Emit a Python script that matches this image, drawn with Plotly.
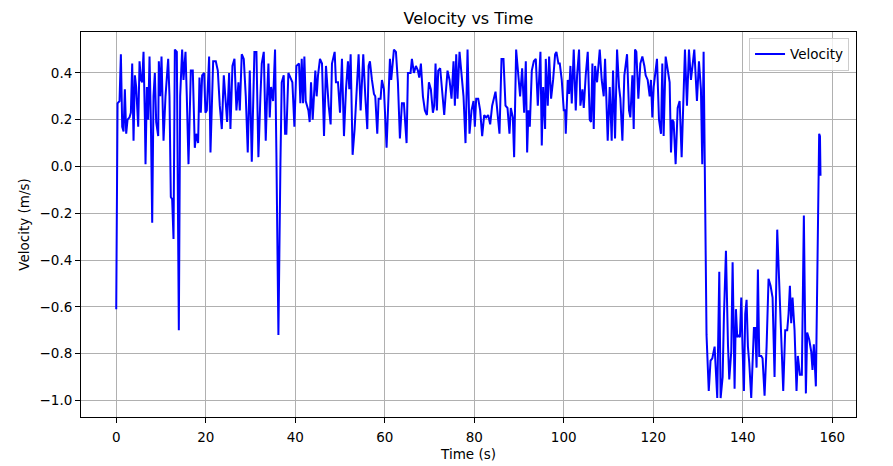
import plotly.graph_objects as go

# values
time_s = [
    0.0, 0.3, 0.74, 1.04, 1.34, 1.64, 1.93, 2.23, 2.53, 2.98, 3.27, 3.57, 3.87, 4.17, 4.46, 4.91,
    5.21, 5.51, 5.8, 6.1, 6.4, 6.55, 6.85, 7.14, 7.44, 7.74, 8.04, 8.33, 8.63, 8.93, 9.38, 9.52,
    9.82, 10.12, 10.57, 11.01, 11.61, 11.9, 12.2, 12.5, 12.8, 13.1, 13.54, 13.99, 14.29, 14.73,
    15.03, 15.48, 15.77, 16.15, 16.67, 17.11, 17.56, 17.86, 18.3, 18.6, 18.9, 19.2, 19.64, 19.94,
    20.24, 20.76, 21.06, 21.66, 22.25, 22.7, 23.14, 23.59, 24.04, 24.48, 24.78, 25.23, 25.52,
    25.97, 26.42, 26.86, 27.31, 27.61, 28.05, 28.5, 28.95, 29.39, 29.84, 30.29, 30.88, 31.33,
    31.77, 32.22, 32.52, 32.97, 33.41, 33.71, 34.01, 34.3, 34.6, 35.05, 35.49, 35.79, 36.24,
    36.69, 36.98, 37.43, 37.73, 38.02, 38.47, 38.92, 39.36, 39.81, 40.26, 40.85, 41.15, 41.45,
    41.75, 42.04, 42.34, 42.64, 42.94, 43.23, 43.53, 43.9, 44.19, 44.49, 44.79, 45.09, 45.53,
    45.98, 46.43, 46.87, 47.47, 47.91, 48.21, 48.81, 49.1, 49.55, 50.0, 50.44, 50.89, 51.34,
    51.78, 52.08, 52.38, 52.68, 52.82, 53.27, 53.72, 54.16, 54.61, 55.2, 55.65, 56.1, 56.4,
    56.69, 57.14, 57.59, 57.88, 58.33, 58.63, 59.07, 59.37, 59.82, 60.41, 61.16, 61.45, 62.05,
    62.5, 62.94, 63.39, 63.84, 64.28, 64.88, 65.18, 65.77, 66.07, 66.51, 66.96, 67.41, 67.71,
    68.08, 68.53, 68.97, 69.42, 69.87, 70.31, 70.76, 71.06, 71.35, 71.65, 71.95, 72.39, 72.84,
    73.29, 73.58, 74.03, 74.48, 74.92, 75.37, 75.67, 75.97, 76.26, 76.71, 77.16, 77.6, 78.05,
    78.5, 78.94, 79.39, 79.84, 80.13, 80.43, 80.88, 81.32, 81.77, 82.22, 82.66, 83.11, 83.56,
    84.0, 84.3, 84.75, 85.19, 85.64, 86.09, 86.53, 86.98, 87.43, 87.87, 88.17, 88.62, 88.91,
    89.36, 89.81, 90.25, 90.7, 91.15, 91.52, 91.82, 92.11, 92.41, 92.86, 93.31, 93.75, 94.2,
    94.79, 95.09, 95.39, 95.83, 95.98, 96.43, 96.73, 97.17, 97.62, 98.07, 98.36, 98.81, 99.11,
    99.55, 100.0, 100.3, 100.45, 100.89, 101.19, 101.49, 101.79, 102.23, 102.68, 102.98, 103.42,
    103.72, 104.17, 104.47, 104.91, 105.36, 105.8, 106.1, 106.4, 106.7, 107.0, 107.44, 108.04,
    108.48, 108.93, 109.23, 109.82, 110.27, 110.71, 111.01, 111.46, 111.91, 112.35, 112.65,
    113.1, 113.54, 114.14, 114.58, 114.88, 115.33, 115.63, 115.92, 116.22, 116.67, 117.11,
    117.56, 118.01, 118.3, 118.75, 119.2, 119.49, 119.79, 120.09, 120.54, 120.83, 121.28,
    121.73, 122.02, 122.32, 122.77, 123.21, 123.66, 123.96, 124.26, 124.55, 125.0, 125.45,
    125.89, 126.34, 126.64, 127.08, 127.53, 127.98, 128.42, 128.72, 129.17, 129.76, 130.21,
    130.65, 130.95, 131.25, 131.55, 131.9, 132.4, 132.8, 133.2, 133.71, 134.3, 134.75, 135.05,
    135.5, 135.79, 136.24, 136.69, 136.98, 137.43, 137.73, 138.17, 138.47, 138.77, 139.07,
    139.36, 139.66, 139.96, 140.26, 140.55, 140.85, 141.15, 141.45, 141.89, 142.49, 142.79,
    143.08, 143.38, 143.68, 144.13, 144.42, 144.87, 145.32, 145.76, 146.21, 146.66, 147.1,
    147.7, 148.14, 148.59, 149.04, 149.48, 149.93, 150.23, 150.53, 150.82, 151.12, 151.57,
    152.01, 152.31, 152.76, 153.2, 153.65, 154.1, 154.39, 154.84, 155.29, 155.58, 155.88,
    156.33, 156.77, 157.07, 157.25, 157.37,
]
velocity = [
    -0.61, 0.27, 0.28, 0.48, 0.17, 0.15, 0.33, 0.14, 0.2, 0.21, 0.23, 0.44, 0.11, 0.39, 0.34, 0.17,
    0.45, 0.37, 0.36, 0.49, 0.21, 0.01, 0.34, 0.2, 0.47, 0.2, -0.24, 0.3, 0.4, 0.19, 0.13, 0.45,
    0.3, 0.47, 0.11, 0.3, 0.46, 0.3, -0.13, -0.14, -0.31, 0.5, 0.49, -0.7, 0.3, 0.5,
    0.37, 0.49, 0.3, 0.01, 0.41, 0.41, 0.08, 0.14, 0.1, 0.38, 0.23, 0.39, 0.4, 0.23,
    0.24, 0.47, 0.06, 0.45, 0.45, 0.41, 0.26, 0.16, 0.39, 0.26, 0.19, 0.4, 0.16,
    0.43, 0.46, 0.24, 0.36, 0.24, 0.48, 0.46, 0.3, 0.06, 0.41, 0.02, 0.49, 0.49,
    0.04, 0.3, 0.44, 0.49, 0.11, 0.3, 0.44, 0.21, 0.34, 0.28, 0.5, 0.06, -0.72,
    0.01, 0.36, 0.39, 0.14, 0.14, 0.4, 0.38, 0.36, 0.17, 0.43, 0.44, 0.27, 0.46,
    0.27, 0.47, 0.28, 0.26, 0.24, 0.19, 0.36, 0.2, 0.33, 0.41, 0.3, 0.39, 0.46,
    0.44, 0.13, 0.43, 0.26, 0.18, 0.44, 0.49, 0.36, 0.36, 0.23, 0.46, 0.13, 0.33,
    0.45, 0.33, 0.48, 0.16, 0.05, 0.16, 0.3, 0.48, 0.24, 0.48, 0.3, 0.16, 0.43,
    0.45, 0.37, 0.31, 0.3, 0.14, 0.29, 0.29, 0.37, 0.33, 0.08, 0.46, 0.37, 0.5,
    0.49, 0.36, 0.12, 0.27, 0.27, 0.1, 0.4, 0.4, 0.46, 0.4, 0.43, 0.41, 0.38,
    0.44, 0.3, 0.24, 0.22, 0.36, 0.33, 0.23, 0.26, 0.44, 0.24, 0.41, 0.42, 0.3,
    0.22, 0.3, 0.41, 0.37, 0.29, 0.45, 0.26, 0.48, 0.29, 0.49, 0.39, 0.3, 0.1,
    0.5, 0.14, 0.24, 0.28, 0.17, 0.29, 0.29, 0.24, 0.13, 0.22, 0.21, 0.22, 0.18,
    0.26, 0.28, 0.32, 0.23, 0.14, 0.46, 0.46, 0.26, 0.25, 0.14, 0.25, 0.21, 0.04,
    0.5, 0.41, 0.3, 0.42, 0.23, 0.45, 0.06, 0.24, 0.17, 0.41, 0.45, 0.46, 0.26,
    0.49, 0.09, 0.34, 0.16, 0.46, 0.26, 0.47, 0.29, 0.37, 0.48, 0.49, 0.44, 0.44,
    0.37, 0.24, 0.24, 0.14, 0.37, 0.31, 0.43, 0.27, 0.5, 0.24, 0.39, 0.5,
    0.26, 0.33, 0.25, 0.39, 0.49, 0.2, 0.19, 0.44, 0.16, 0.43, 0.36, 0.5,
    0.37, 0.3, 0.46, 0.11, 0.34, 0.11, 0.41, 0.12, 0.5, 0.34, 0.29,
    0.11, 0.39, 0.48, 0.24, 0.21, 0.39, 0.16, 0.5, 0.49, 0.29, 0.44,
    0.47, 0.43, 0.39, 0.37, 0.3, 0.37, 0.21, 0.34, 0.41, 0.46, 0.2,
    0.14, 0.44, 0.13, 0.47, 0.41, 0.36, 0.06, 0.2, 0.19, 0.01, 0.25,
    0.28, 0.04, 0.23, 0.5, 0.26, 0.5, 0.37, 0.43, 0.5, 0.28, 0.45,
    0.33, 0.01, 0.49, 0.04, -0.72, -0.96, -0.83, -0.82, -0.77, -0.99, -0.45, -0.99,
    -0.9, -0.64, -0.36, -0.76, -0.91, -0.79, -0.41, -0.95, -0.61, -0.73, -0.72,
    -0.73, -0.56, -0.78, -0.96, -0.63, -0.57, -0.77, -0.84, -0.99, -0.69, -0.69,
    -0.86, -0.44, -0.81, -0.81, -0.82, -0.98, -0.77, -0.48, -0.51, -0.56, -0.9,
    -0.27, -0.49, -0.73, -0.96, -0.7, -0.7, -0.63, -0.51, -0.67, -0.56, -0.7,
    -0.96, -0.81, -0.89, -0.89, -0.21, -0.97, -0.71, -0.74, -0.79, -0.87, -0.76,
    -0.94, -0.41, 0.14, 0.13, -0.04,
]

y_ticks = [-1.0, -0.8, -0.6, -0.4, -0.2, 0.0, 0.2, 0.4]
x_ticks = [0, 20, 40, 60, 80, 100, 120, 140, 160]

fig = go.Figure()
fig.add_trace(go.Scatter(x=time_s, y=velocity, mode="lines", name="Velocity",
                         line=dict(color="#0000ff", width=2)))

axis_style = dict(showline=True, linecolor="black", linewidth=1, mirror=True,
                  ticks="outside", ticklen=5, tickcolor="black", automargin=False,
                  showgrid=True, gridcolor="#b0b0b0", gridwidth=1, zeroline=False,
                  tickfont=dict(size=13.5, color="black"))

fig.update_layout(
    width=893, height=466,
    margin=dict(l=81, r=37, t=32, b=49),
    paper_bgcolor="white", plot_bgcolor="white",
    font=dict(family="DejaVu Sans", size=13.5, color="black"),
    title=dict(text="Velocity vs Time", xref="paper", x=0.5, xanchor="center",
               y=0.961, yanchor="middle", font=dict(size=16)),
    xaxis=dict(title=dict(text="Time (s)", standoff=5, font=dict(size=13.5)),
               range=[-7.87, 165.3], tickvals=x_ticks, ticklabelstandoff=3, **axis_style),
    yaxis=dict(title=dict(text="Velocity (m/s)", standoff=6, font=dict(size=13.5)),
               range=[-1.071, 0.575], tickvals=y_ticks, tickformat=".1f", **axis_style),
    legend=dict(x=0.991, y=0.985, xanchor="right", yanchor="top",
                bgcolor="rgba(255,255,255,0.8)", bordercolor="#cccccc", borderwidth=1,
                font=dict(size=13.5)),
    showlegend=True,
)

# drop the default page margin so the figure sits at the window's corner
fig.write_html("out.html", config={"displayModeBar": False},
               post_script="document.body.style.margin = '0';")
